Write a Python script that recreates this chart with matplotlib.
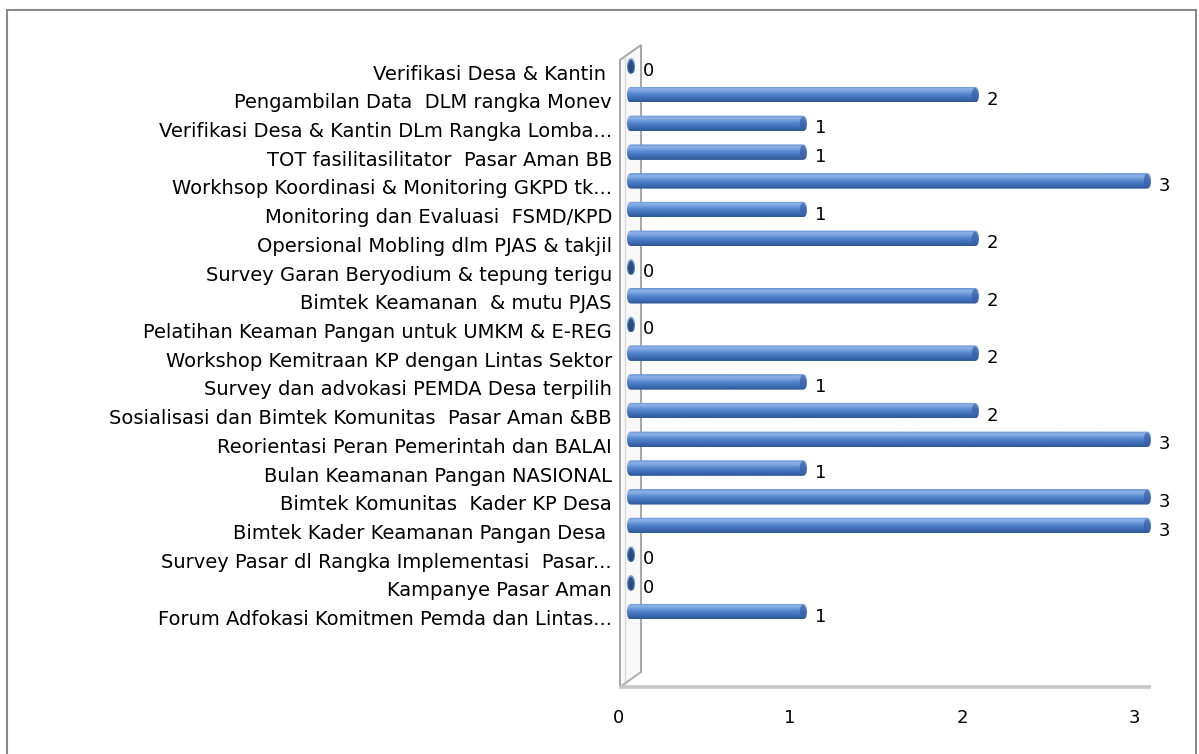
import matplotlib.pyplot as plt
import matplotlib.transforms as mtransforms
from matplotlib.patches import FancyBboxPatch, Ellipse, Polygon, Rectangle
from matplotlib.lines import Line2D
import numpy as np

plt.rcParams['font.family'] = ['DejaVu Sans']

# data, top to bottom as shown
categories = [
    'Verifikasi Desa & Kantin ',
    'Pengambilan Data  DLM rangka Monev',
    'Verifikasi Desa & Kantin DLm Rangka Lomba...',
    'TOT fasilitasilitator  Pasar Aman BB',
    'Workhsop Koordinasi & Monitoring GKPD tk...',
    'Monitoring dan Evaluasi  FSMD/KPD',
    'Opersional Mobling dlm PJAS & takjil',
    'Survey Garan Beryodium & tepung terigu',
    'Bimtek Keamanan  & mutu PJAS',
    'Pelatihan Keaman Pangan untuk UMKM & E-REG',
    'Workshop Kemitraan KP dengan Lintas Sektor',
    'Survey dan advokasi PEMDA Desa terpilih',
    'Sosialisasi dan Bimtek Komunitas  Pasar Aman &BB',
    'Reorientasi Peran Pemerintah dan BALAI',
    'Bulan Keamanan Pangan NASIONAL',
    'Bimtek Komunitas  Kader KP Desa',
    'Bimtek Kader Keamanan Pangan Desa ',
    'Survey Pasar dl Rangka Implementasi  Pasar...',
    'Kampanye Pasar Aman',
    'Forum Adfokasi Komitmen Pemda dan Lintas...',
]
values = [0, 2, 1, 1, 3, 1, 2, 0, 2, 0, 2, 1, 2, 3, 1, 3, 3, 0, 0, 1]
xticks = [0, 1, 2, 3]

W, H, DPI = 1199, 754, 100
fig = plt.figure(figsize=(W / DPI, H / DPI), dpi=DPI)
fig.patch.set_facecolor('white')

# plot area (pixels from top-left); x=0 at 631 px, x=3 at 1147 px
zero_px, three_px = 631, 1147
px_per_x = (three_px - zero_px) / 3
cap = 4 / px_per_x
top_px, bottom_px = 45, 687
row_px = 28.72
first_px = 66
xlim = (-cap, 3 + cap)
ylim = ((bottom_px - first_px) / row_px, (top_px - first_px) / row_px)
ax = fig.add_axes([(zero_px - 4) / W, 1 - bottom_px / H,
                   (three_px - zero_px + 8) / W, (bottom_px - top_px) / H])
ax.set_xlim(*xlim)
ax.set_ylim(*ylim)
ax.axis('off')


def shift(base, dx, dy):
    # dx right, dy down, in pixels
    return base + mtransforms.ScaledTranslation(dx / DPI, -dy / DPI, fig.dpi_scale_trans)


xt = ax.get_xaxis_transform()
ident = mtransforms.IdentityTransform()


def disp(x, y, dx, dy):
    px, py = xt.transform((x, y))
    return (px + dx, py - dy)


# 3D side wall and floor
wall = [disp(0, 0, -11, 0), disp(0, 1, -11, 15), disp(0, 1, 10, 0),
        disp(0, 0, 10, -15)]
ax.add_artist(Polygon(wall, closed=True, transform=ident, clip_on=False,
                      facecolor='#f8f8f8', edgecolor='#a5a5a5', lw=1.4, zorder=1))
inner = [disp(0, 0, -6, -2), disp(0, 1, -6, 12)]
ax.add_artist(Line2D([p[0] for p in inner], [p[1] for p in inner], transform=ident,
                     clip_on=False, color='#dadada', lw=1.0, zorder=1))
fl = [disp(0, 0, -11, 0), disp(0, 0, 10, -15)]
ax.add_artist(Line2D([p[0] for p in fl], [p[1] for p in fl], transform=ident,
                     clip_on=False, color='#b5b5b5', lw=1.2, zorder=1))
floor = [disp(0, 0, -12, 0), disp(3, 0, 4, 0)]
ax.add_artist(Line2D([p[0] for p in floor], [p[1] for p in floor], transform=ident,
                     clip_on=False, color='#c6c6c6', lw=2.6, solid_capstyle='butt',
                     zorder=1))

# cylinder bars
bar_h = 0.54
grad = ['#6d99d7', '#8cb1e6', '#7ea6e1', '#6695d7', '#5586cd',
        '#4a7bc4', '#4170b8', '#3866ab', '#2f5998']
grad_rgb = np.array([[int(c[k:k + 2], 16) / 255 for k in (1, 3, 5)] for c in grad])
grad_img = grad_rgb[:, None, :]
for i, v in enumerate(values):
    x0, x1 = -cap, v + cap
    box = FancyBboxPatch((x0, i - bar_h / 2), x1 - x0, bar_h,
                         boxstyle=f'round,pad=0,rounding_size={cap}',
                         mutation_aspect=(bar_h / 2) / cap,
                         facecolor='none', edgecolor='none', transform=ax.transData)
    ax.add_patch(box)
    im = ax.imshow(grad_img, extent=(x0, x1, i + bar_h / 2, i - bar_h / 2),
                   origin='upper', aspect='auto', interpolation='bilinear', zorder=3)
    im.set_clip_path(box)
    # darker end cap
    if v > 0:
        ax.add_patch(Ellipse((v, i), 1.6 * cap, bar_h * 0.86, facecolor='#3a5ea8',
                             edgecolor='none', alpha=0.7, zorder=4))
    else:
        ax.add_patch(Ellipse((0, i), 1.4 * cap, bar_h * 0.8, facecolor='#23426f',
                             edgecolor='none', alpha=0.85, zorder=4))
    ax.text(v, i, str(v), transform=shift(ax.transData, 12, 5), ha='left', va='center',
            fontsize=13, color='black')
    ax.text(0, i, categories[i], transform=shift(ax.transData, -19, 8), ha='right',
            va='center', fontsize=14, color='black')

ax.set_xlim(*xlim)
ax.set_ylim(*ylim)

for t in xticks:
    ax.text(t, 0, str(t), transform=shift(xt, -13, 31), ha='center', va='center',
            fontsize=13, color='black')

# chart border
fig.add_artist(Rectangle((7 / W, -0.02), (1196 - 7) / W, (H - 10) / H + 0.02,
                         transform=fig.transFigure, fill=False,
                         edgecolor='#8a8a8a', lw=1.5))

fig.savefig('out.png', dpi=DPI, facecolor='white')
